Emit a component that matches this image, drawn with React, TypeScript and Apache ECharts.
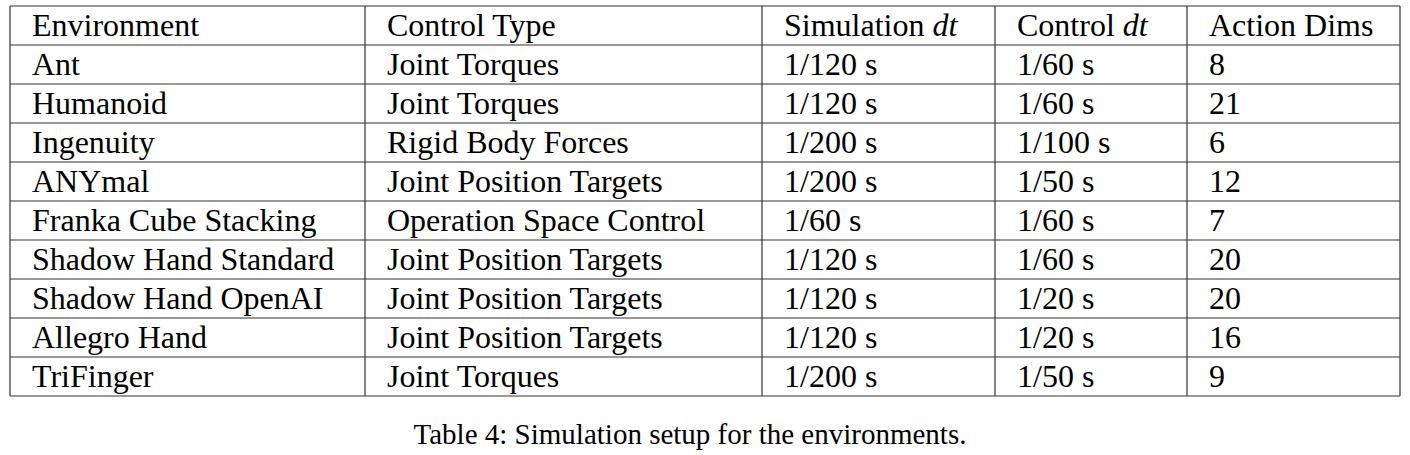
import React, { useEffect, useRef } from 'react';
import * as echarts from 'echarts';

const headers = ['Environment', 'Control Type', 'Simulation {i|dt}', 'Control {i|dt}', 'Action Dims'];
const environments = ['Ant', 'Humanoid', 'Ingenuity', 'ANYmal', 'Franka Cube Stacking', 'Shadow Hand Standard', 'Shadow Hand OpenAI', 'Allegro Hand', 'TriFinger'];
const controlTypes = ['Joint Torques', 'Joint Torques', 'Rigid Body Forces', 'Joint Position Targets', 'Operation Space Control', 'Joint Position Targets', 'Joint Position Targets', 'Joint Position Targets', 'Joint Torques'];
const simDt = ['1/120 s', '1/120 s', '1/200 s', '1/200 s', '1/60 s', '1/120 s', '1/120 s', '1/120 s', '1/200 s'];
const controlDt = ['1/60 s', '1/60 s', '1/100 s', '1/50 s', '1/60 s', '1/60 s', '1/20 s', '1/20 s', '1/50 s'];
const actionDims = ['8', '21', '6', '12', '7', '20', '20', '16', '9'];
const caption = 'Table 4: Simulation setup for the environments.';

const App: React.FC = () => {
    const chartRef = useRef<HTMLDivElement>(null);

    useEffect(() => {
        document.body.style.margin = '0';
        if (!chartRef.current) return;
        const chart = echarts.init(chartRef.current, null, { renderer: 'svg' });

        const colX = [10, 365, 762, 995, 1187, 1400];
        const top = 6;
        const rowH = 39;
        const columns = [environments, controlTypes, simDt, controlDt, actionDims];
        const nRows = environments.length + 1;
        const bottom = top + rowH * nRows;
        const font = '"Liberation Serif", "DejaVu Serif", serif';
        const lineStyle = { stroke: '#333', lineWidth: 1.2 };

        const elements: any[] = [];
        for (let r = 0; r <= nRows; r++) {
            const y = top + r * rowH;
            elements.push({ type: 'line', shape: { x1: colX[0], y1: y, x2: colX[5], y2: y }, style: lineStyle });
        }
        colX.forEach((x) => {
            elements.push({ type: 'line', shape: { x1: x, y1: top, x2: x, y2: bottom }, style: lineStyle });
        });
        const textAt = (text: string, c: number, r: number) => ({
            type: 'text',
            x: colX[c] + 22,
            y: top + r * rowH + rowH / 2 - 1,
            style: {
                text,
                fill: '#000',
                font: `32px ${font}`,
                verticalAlign: 'middle',
                rich: { i: { fontStyle: 'italic', fontSize: 32, fontFamily: font } },
            },
        });
        headers.forEach((h, c) => elements.push(textAt(h, c, 0)));
        columns.forEach((col, c) => col.forEach((v, i) => elements.push(textAt(v, c, i + 1))));
        elements.push({
            type: 'text',
            x: 690,
            y: 434,
            style: { text: caption, fill: '#000', font: `29px ${font}`, align: 'center', verticalAlign: 'middle' },
        });

        chart.setOption({ animation: false, graphic: { elements } });
        return () => chart.dispose();
    }, []);

    return <div ref={chartRef} style={{ width: '1410px', height: '455px' }} />;
};

export default App;
